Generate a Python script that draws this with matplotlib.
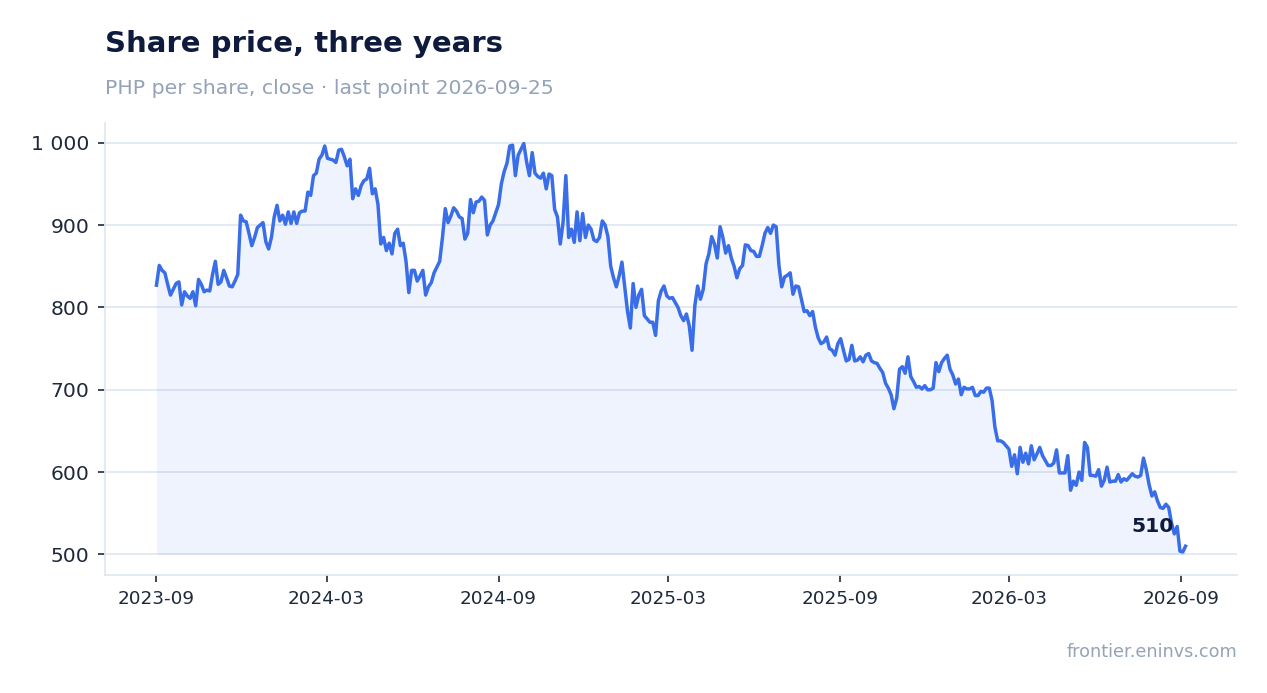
import matplotlib
matplotlib.use("Agg")
import matplotlib.pyplot as plt
from matplotlib.ticker import FuncFormatter
import pandas as pd

plt.rcParams["font.family"] = ["DejaVu Sans"]

title = "Share price, three years"
subtitle = "PHP per share, close · last point 2026-09-25"
source = "frontier.eninvs.com"
start_date = "2023-09-01"
step = "3D"

prices = [
    827, 851, 845, 842, 828, 815, 822, 829, 831, 803,
    819, 814, 811, 819, 802, 834, 828, 819, 821, 820,
    840, 856, 828, 831, 845, 836, 826, 825, 832, 840,
    912, 905, 904, 890, 875, 885, 897, 900, 903, 880,
    871, 885, 910, 924, 905, 912, 901, 916, 902, 916,
    902, 915, 917, 917, 940, 936, 960, 963, 980, 985,
    996, 981, 980, 979, 976, 991, 992, 983, 972, 980,
    932, 944, 936, 948, 954, 956, 969, 938, 944, 925,
    877, 885, 869, 878, 865, 890, 895, 875, 878, 856,
    818, 845, 845, 832, 838, 845, 815, 825, 830, 842,
    849, 856, 885, 920, 903, 911, 921, 917, 910, 908,
    883, 890, 931, 915, 928, 929, 934, 930, 888, 900,
    905, 915, 925, 950, 965, 975, 996, 997, 960, 985,
    992, 999, 977, 960, 988, 963, 959, 957, 963, 944,
    962, 960, 919, 910, 877, 903, 960, 885, 895, 879,
    916, 881, 914, 885, 900, 895, 882, 880, 885, 905,
    900, 886, 850, 836, 825, 838, 855, 825, 795, 775,
    829, 800, 815, 822, 790, 786, 782, 782, 766, 808,
    820, 826, 814, 811, 812, 806, 800, 790, 784, 792,
    778, 748, 802, 826, 810, 822, 853, 865, 886, 877,
    860, 898, 885, 866, 875, 860, 850, 836, 847, 851,
    876, 875, 869, 868, 862, 862, 875, 890, 897, 890,
    900, 898, 851, 825, 837, 839, 842, 816, 826, 825,
    810, 795, 796, 790, 795, 776, 763, 756, 758, 764,
    750, 748, 742, 756, 762, 748, 735, 737, 754, 735,
    736, 740, 734, 742, 744, 735, 733, 732, 726, 721,
    708, 702, 694, 677, 690, 725, 728, 720, 740, 716,
    710, 703, 704, 701, 705, 700, 700, 702, 733, 722,
    733, 738, 742, 725, 718, 707, 713, 694, 703, 701,
    701, 703, 693, 693, 698, 697, 702, 702, 687, 655,
    638, 638, 636, 632, 628, 607, 621, 598, 630, 612,
    623, 610, 632, 615, 622, 630, 620, 614, 608, 608,
    611, 627, 599, 599, 599, 620, 578, 589, 584, 600,
    590, 636, 630, 596, 596, 595, 603, 583, 590, 606,
    588, 589, 589, 597, 588, 592, 590, 594, 598, 595,
    594, 596, 617, 603, 585, 571, 576, 565, 557, 556,
    561, 557, 538, 525, 534, 504, 503, 510,
]
y_ticks = [500, 600, 700, 800, 900, 1000]
x_tick_labels = ["2023-09", "2024-03", "2024-09", "2025-03", "2025-09", "2026-03", "2026-09"]
fill_base = 500

dates = pd.date_range(start_date, periods=len(prices), freq=step)

LINE = "#3a6ee8"
NAVY = "#0f1b3d"
MUTED = "#94a3b8"
GRID = "#e2e8f0"
TEXT = "#1e293b"

fig = plt.figure(figsize=(12.67, 6.93), dpi=100)
ax = fig.add_axes([105 / 1267, 1 - 575 / 693, (1237 - 105) / 1267, (575 - 123) / 693])

ax.fill_between(dates, prices, fill_base, color=LINE, alpha=0.08, linewidth=0)
ax.plot(dates, prices, color=LINE, linewidth=2.5, solid_joinstyle="round")

ax.set_yticks(y_ticks)
ax.yaxis.set_major_formatter(FuncFormatter(lambda v, p: f"{int(v):,}".replace(",", " ")))
ax.set_xticks(pd.to_datetime([s + "-01" for s in x_tick_labels]))
ax.set_xticklabels(x_tick_labels)

ax.grid(axis="y", color=GRID, linewidth=1.3)
ax.set_axisbelow(True)
for s in ["top", "right"]:
    ax.spines[s].set_visible(False)
for s in ["left", "bottom"]:
    ax.spines[s].set_color(GRID)
    ax.spines[s].set_linewidth(1.3)

ax.tick_params(axis="y", labelsize=14.6, colors=TEXT, length=5, width=1.2, pad=6)
ax.tick_params(axis="x", labelsize=13.2, colors=TEXT, length=5, width=1.2, pad=6)
for t in ax.get_xticklines() + ax.get_yticklines():
    t.set_color("#334155")

ax.annotate(f"{prices[-1]}", xy=(dates[-1], prices[-1]), xytext=(-8.5, 14),
            textcoords="offset points", ha="right", va="center",
            fontsize=14.7, fontweight="bold", color=NAVY)

fig.text(105 / 1267, 1 - 44 / 693, title, fontsize=21, fontweight="bold",
         color=NAVY, ha="left", va="center")
fig.text(105 / 1267, 1 - 88 / 693, subtitle, fontsize=14.7, color=MUTED,
         ha="left", va="center")
fig.text(1237 / 1267, 1 - 652 / 693, source, fontsize=12.7, color=MUTED,
         ha="right", va="center")

fig.savefig("out.png", dpi=100)
